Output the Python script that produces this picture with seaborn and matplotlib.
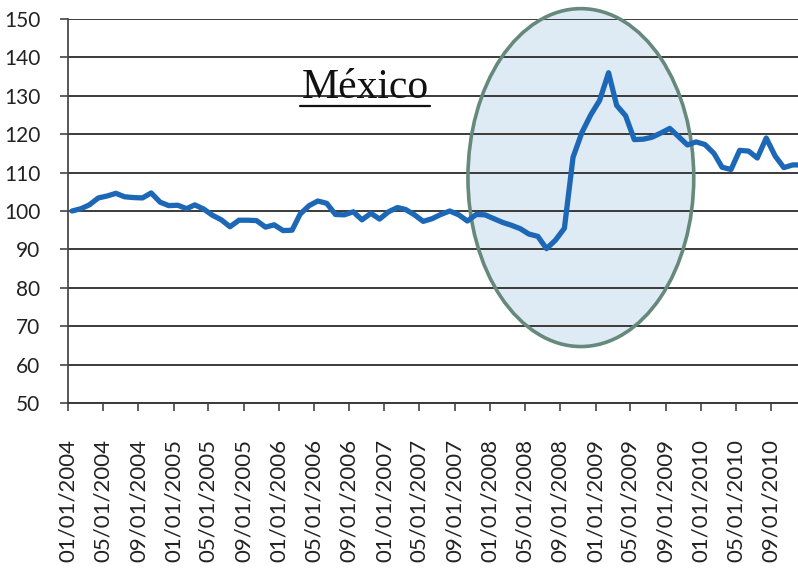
import matplotlib
matplotlib.use('Agg')
import matplotlib.pyplot as plt
import matplotlib.dates as mdates
from matplotlib.patches import Ellipse
from matplotlib.lines import Line2D
import seaborn as sns
import pandas as pd


# monthly index for Mexico, jan 2004 = 100
first_month = '2004-01-01'
index_values = [
    100.0, 100.6, 101.6, 103.4, 103.9, 104.6, 103.7, 103.5, 103.4, 104.7,
    102.3, 101.4, 101.5, 100.6, 101.6, 100.5, 98.9, 97.7, 95.9, 97.6,
    97.6, 97.5, 95.8, 96.4, 94.9, 95.0, 99.2, 101.4, 102.6, 102.0,
    99.1, 99.0, 99.8, 97.7, 99.4, 97.9, 99.8, 100.9, 100.4, 99.0,
    97.3, 98.0, 99.1, 100.0, 99.0, 97.4, 99.1, 99.0, 98.0, 97.0,
    96.3, 95.4, 94.0, 93.4, 90.2, 92.4, 95.5, 114.0, 120.5, 125.0,
    128.8, 136.0, 127.5, 124.8, 118.6, 118.7, 119.2, 120.3, 121.5, 119.4,
    117.2, 118.0, 117.3, 115.0, 111.4, 110.8, 115.8, 115.6, 113.8, 119.0,
    114.3, 111.3, 112.0, 112.0,
]

tick_labels = [
    '01/01/2004', '05/01/2004', '09/01/2004',
    '01/01/2005', '05/01/2005', '09/01/2005',
    '01/01/2006', '05/01/2006', '09/01/2006',
    '01/01/2007', '05/01/2007', '09/01/2007',
    '01/01/2008', '05/01/2008', '09/01/2008',
    '01/01/2009', '05/01/2009', '09/01/2009',
    '01/01/2010', '05/01/2010', '09/01/2010',
]
y_ticks = list(range(50, 151, 10))

title = 'México'

# points sit in the middle of each month
dates = pd.date_range(first_month, periods=len(index_values), freq='MS') + pd.Timedelta(days=14)
df = pd.DataFrame({'date': dates, 'value': index_values})
tick_dates = pd.to_datetime(tick_labels, format='%m/%d/%Y')

sns.set_style('white')
plt.rcParams['font.family'] = ['Lato', 'DejaVu Sans']

fig = plt.figure(figsize=(7.98, 5.72), dpi=100)
ax = fig.add_axes([68 / 798, 1 - 403 / 572, 730 / 798, 384 / 572])

# highlighted crisis period
start = pd.Timestamp(first_month)
center = mdates.date2num(pd.Timestamp('2008-11-11'))
ax.add_patch(Ellipse((center, 108.7), width=782, height=88,
                     facecolor='#deeaf4', edgecolor='none', zorder=0.2, clip_on=False))
ax.add_patch(Ellipse((center, 108.7), width=782, height=88,
                     facecolor='none', edgecolor='#66897c', lw=2.6, zorder=1.5, clip_on=False))

sns.lineplot(data=df, x='date', y='value', ax=ax, color='#1d68b6', linewidth=3.8, zorder=3)

ax.set_xlim(mdates.date2num(start), mdates.date2num(start) + 2528)
ax.set_ylim(50, 150)
ax.set_yticks(y_ticks)
ax.set_xticks(tick_dates)
ax.set_xticklabels(tick_labels, rotation=90, fontsize=16, color='#222222')
ax.set_yticklabels([str(v) for v in y_ticks], fontsize=15, color='#222222')
ax.set_xlabel('')
ax.set_ylabel('')

ax.yaxis.grid(True, color='#3a3a3a', linewidth=1.4)
ax.xaxis.grid(False)
ax.set_axisbelow(True)
for side in ['top', 'right']:
    ax.spines[side].set_visible(False)
ax.spines['left'].set_color('#4a4a4a')
ax.spines['left'].set_linewidth(1.3)
ax.spines['bottom'].set_color('#3a3a3a')
ax.spines['bottom'].set_linewidth(1.4)
ax.tick_params(axis='x', length=6, width=1.2, color='#444444', pad=20, direction='out', bottom=True)
ax.tick_params(axis='y', length=6, width=1.2, color='#444444', pad=14, direction='out', left=True)

ax.text(0.4075, 0.794, title, transform=ax.transAxes, ha='center', va='baseline',
        fontsize=30, family='Liberation Serif', color='#111111', zorder=4)
ax.add_line(Line2D([0.318, 0.496], [0.7734, 0.7734], transform=ax.transAxes,
                   color='#111111', linewidth=1.6, zorder=4))

fig.savefig('out.png', dpi=100)
